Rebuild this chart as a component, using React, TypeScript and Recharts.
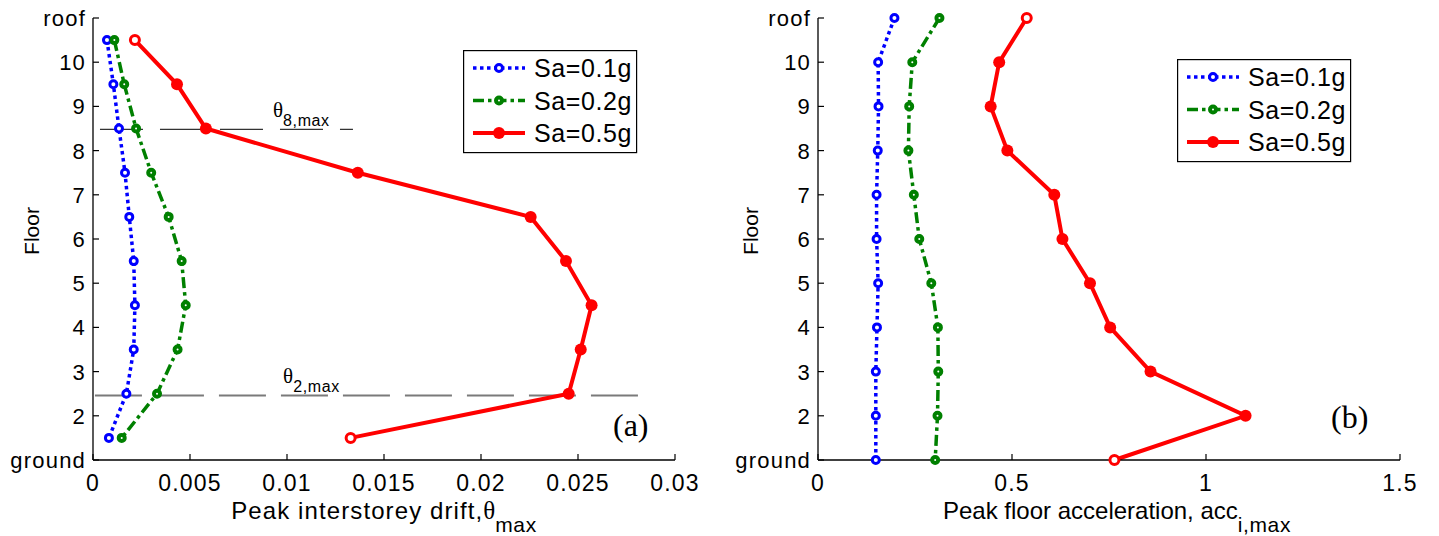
import React from 'react'
import { LineChart, Line, XAxis, YAxis, Legend, ReferenceLine, ReferenceDot } from 'recharts'

// (a) interstorey drift, read at mid-storey heights
const driftFloors = [10.5, 9.5, 8.5, 7.5, 6.5, 5.5, 4.5, 3.5, 2.5, 1.5]
const driftSa01 = [0.00072, 0.00105, 0.00134, 0.00165, 0.00187, 0.0021, 0.00216, 0.0021, 0.00172, 0.00082]
const driftSa02 = [0.0011, 0.00161, 0.00222, 0.003, 0.0039, 0.00457, 0.00478, 0.00436, 0.0033, 0.00148]
const driftSa05 = [0.00216, 0.00433, 0.00582, 0.01365, 0.02256, 0.02438, 0.0257, 0.02514, 0.02452, 0.01328]

// (b) floor acceleration, read at floor levels
const accFloors = [11, 10, 9, 8, 7, 6, 5, 4, 3, 2, 1]
const accSa01 = [0.197, 0.155, 0.156, 0.154, 0.151, 0.151, 0.155, 0.152, 0.149, 0.149, 0.149]
const accSa02 = [0.313, 0.243, 0.235, 0.233, 0.247, 0.261, 0.292, 0.309, 0.31, 0.308, 0.302]
const accSa05 = [0.538, 0.467, 0.445, 0.488, 0.609, 0.63, 0.701, 0.753, 0.857, 1.102, 0.764]

const driftTicks = [0, 0.005, 0.01, 0.015, 0.02, 0.025, 0.03]
const accTicks = [0, 0.5, 1, 1.5]
const floorTicks = [1, 2, 3, 4, 5, 6, 7, 8, 9, 10, 11]
const floorNames: Record<number, string> = { 1: 'ground', 11: 'roof' }
const seriesNames = ['Sa=0.1g', 'Sa=0.2g', 'Sa=0.5g']

// theta_8,max / theta_2,max guide lines in panel (a)
const guideFloors = [8.48, 2.46]
const guideSubs = ['8,max', '2,max']
const guideFrom = [0.00036, 0.0001]
const guideTo = [0.0134, 0.0288]
const guideLabelX = [0.00928, 0.0098]

const driftData = driftFloors.map((floor, i) => ({ floor, s1: driftSa01[i], s2: driftSa02[i], s3: driftSa05[i] }))
const accData = accFloors.map((floor, i) => ({ floor, s1: accSa01[i], s2: accSa02[i], s3: accSa05[i] }))

const seriesStyles = [
  { key: 's1', color: '#0000ff', width: 3.5, dash: '3.5 3.5', r: 3.5, ring: 3 },
  { key: 's2', color: '#008000', width: 3.5, dash: '11 4 3.5 4', r: 3, ring: 4 },
  { key: 's3', color: '#ff0000', width: 4, dash: undefined, r: 6, ring: 1 },
]

const sans = '"Liberation Sans", Arial, sans-serif'
const serif = '"Liberation Serif", "Times New Roman", serif'

// matlab-style box: ticks point inward on all four sides
const BottomTick = (p: any) => (
  <g>
    <line x1={p.x} x2={p.x} y1={p.y} y2={p.y - 6} stroke="#000" strokeWidth={1.2} />
    <text x={p.x} y={p.y + 31} textAnchor="middle" fontFamily={sans} fontSize={23} letterSpacing={1.2} fill="#000">
      {String(p.payload.value)}
    </text>
  </g>
)
const TopTick = (p: any) => <line x1={p.x} x2={p.x} y1={p.y} y2={p.y + 6} stroke="#000" strokeWidth={1.2} />
const LeftTick = (p: any) => (
  <g>
    <line x1={p.x} x2={p.x + 6} y1={p.y} y2={p.y} stroke="#000" strokeWidth={1.2} />
    <text x={p.x - 7} y={p.y} dy="0.36em" textAnchor="end" fontFamily={sans} fontSize={22} letterSpacing={1.2} fill="#000">
      {floorNames[p.payload.value] ?? String(p.payload.value)}
    </text>
  </g>
)
const RightTick = (p: any) => <line x1={p.x} x2={p.x - 6} y1={p.y} y2={p.y} stroke="#000" strokeWidth={1.2} />

const XTitle = (p: any) => {
  const { x, y, width } = p.viewBox
  return (
    <text x={x + width / 2 + (p.dx || 0)} y={y + 59} textAnchor="middle"
      fontFamily={sans} fontSize={24} letterSpacing={p.spacing} fill="#000">
      {p.main}
      {p.symbol && <tspan fontFamily={serif} fontSize={25} letterSpacing={0}>{p.symbol}</tspan>}
      <tspan fontSize={21} letterSpacing={0.6} dy={13}>{p.sub}</tspan>
    </text>
  )
}

const YTitle = (p: any) => {
  const { x, y, height } = p.viewBox
  return (
    <text transform={`translate(${x + p.dx}, ${y + height / 2 - 8}) rotate(-90)`} textAnchor="middle"
      dominantBaseline="central" fontFamily={sans} fontSize={21} fill="#000">
      Floor
    </text>
  )
}

const ThetaTag = (p: any) => (
  <text x={p.cx} y={p.cy - 12} fontFamily={serif} fontSize={21} fill="#000">
    θ
    <tspan fontFamily={sans} fontSize={16} letterSpacing={0.6} dy={9}>{p.sub}</tspan>
  </text>
)

const makeDot = (s: typeof seriesStyles[number], last: number) => (p: any) => {
  const open = s.key === 's3' && (p.index === 0 || p.index === last)
  if (s.key === 's3' && !open)
    return <circle key={p.index} cx={p.cx} cy={p.cy} r={s.r} fill={s.color} stroke="none" />
  return (
    <circle key={p.index} cx={p.cx} cy={p.cy} r={open ? 4.5 : s.r} fill="#fff"
      stroke={s.color} strokeWidth={open ? 3 : s.ring} />
  )
}

const LegendBox = () => (
  <svg width={175} height={104} style={{ display: 'block' }}>
    <rect x={0.6} y={0.6} width={173} height={102} fill="#fff" stroke="#000" strokeWidth={1.2} />
    {seriesStyles.map((s, i) => {
      const cy = 18 + i * 32.5
      return (
        <g key={s.key}>
          <line x1={10} x2={62} y1={cy} y2={cy} stroke={s.color} strokeWidth={s.width} strokeDasharray={s.dash} />
          {s.key === 's3'
            ? <circle cx={36} cy={cy} r={s.r} fill={s.color} />
            : <circle cx={36} cy={cy} r={s.r} fill="#fff" stroke={s.color} strokeWidth={s.ring} />}
          <text x={71} y={cy} dy="0.36em" fontFamily={sans} fontSize={25} letterSpacing={0.6} fill="#000">
            {seriesNames[i]}
          </text>
        </g>
      )
    })}
  </svg>
)

function Panel(props: {
  data: any[]; ticks: number[]; domain: [number, number]; yWidth: number; right: number
  legendLeft: number; legendTop: number; xTitle: React.ReactElement; titleDx: number; children?: React.ReactNode
}) {
  const last = props.data.length - 1
  return (
    <LineChart layout="vertical" width={700} height={536} data={props.data}
      margin={{ top: 18, right: props.right, bottom: 6, left: 0 }}>
      <XAxis type="number" domain={props.domain} ticks={props.ticks} interval={0} height={70}
        tickSize={0} tickMargin={0} tickLine={false} tick={<BottomTick />}
        axisLine={{ stroke: '#000', strokeWidth: 1.3 }} label={props.xTitle} />
      <XAxis xAxisId="top" orientation="top" type="number" domain={props.domain} ticks={props.ticks}
        interval={0} height={0} tickSize={0} tickMargin={0} tickLine={false} tick={<TopTick />}
        axisLine={{ stroke: '#000', strokeWidth: 1.3 }} />
      <YAxis type="number" dataKey="floor" domain={[1, 11]} ticks={floorTicks} interval={0} reversed
        width={props.yWidth} tickSize={0} tickMargin={0} tickLine={false} tick={<LeftTick />}
        axisLine={{ stroke: '#000', strokeWidth: 1.3 }} label={<YTitle dx={props.titleDx} />} />
      <YAxis yAxisId="right" orientation="right" type="number" domain={[1, 11]} ticks={floorTicks}
        interval={0} reversed width={0} tickSize={0} tickMargin={0} tickLine={false} tick={<RightTick />}
        axisLine={{ stroke: '#000', strokeWidth: 1.3 }} />
      {props.children}
      {seriesStyles.map((s, i) => (
        <Line key={s.key} dataKey={s.key} name={seriesNames[i]} stroke={s.color} strokeWidth={s.width}
          strokeDasharray={s.dash} dot={makeDot(s, last)} activeDot={false} isAnimationActive={false} />
      ))}
      <Legend verticalAlign="middle" align="center" content={<LegendBox />}
        wrapperStyle={{ left: props.legendLeft, top: props.legendTop, width: 175, height: 104 }} />
    </LineChart>
  )
}

export default function App() {
  return (
    <div style={{ position: 'absolute', left: 0, top: 0, width: 1439, height: 536, background: '#fff', fontFamily: sans }}>
      <div style={{ position: 'absolute', left: 0, top: 0 }}>
        <Panel data={driftData} ticks={driftTicks} domain={[0, 0.03]} yWidth={93} right={25}
          legendLeft={463} legendTop={50} titleDx={31}
          xTitle={<XTitle main="Peak interstorey drift," symbol="θ" sub="max" spacing={1.1} />}>
          {guideFloors.map((f, i) => (
            <ReferenceLine key={'g' + i} segment={[{ x: guideFrom[i], y: f }, { x: guideTo[i], y: f }]}
              stroke={i === 0 ? '#333' : '#7a7a7a'} strokeWidth={i === 0 ? 1.4 : 2}
              strokeDasharray={i === 0 ? '43 17' : '47 15'} />
          ))}
          {guideFloors.map((f, i) => (
            <ReferenceDot key={'t' + i} x={guideLabelX[i]} y={f} r={0}
              shape={(p: any) => <ThetaTag cx={p.cx} cy={p.cy} sub={guideSubs[i]} />} />
          ))}
        </Panel>
        <div style={{ position: 'absolute', left: 613, top: 409, fontFamily: serif, fontSize: 32, lineHeight: '32px' }}>(a)</div>
      </div>
      <div style={{ position: 'absolute', left: 720, top: 0 }}>
        <Panel data={accData} ticks={accTicks} domain={[0, 1.5]} yWidth={98} right={20}
          legendLeft={457} legendTop={59} titleDx={30}
          xTitle={<XTitle main="Peak floor acceleration, acc" sub="i,max" spacing={0} dx={8} />} />
        <div style={{ position: 'absolute', left: 611, top: 401, fontFamily: serif, fontSize: 32, lineHeight: '32px' }}>(b)</div>
      </div>
    </div>
  )
}
